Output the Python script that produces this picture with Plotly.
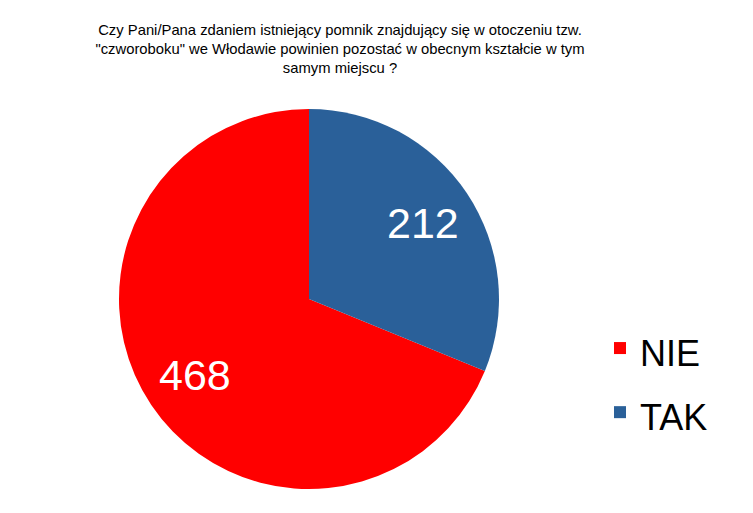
import math
import plotly.graph_objects as go

labels = ["NIE", "TAK"]
values = [468, 212]
colors = ["#FF0000", "#2A6099"]
title_text = ("Czy Pani/Pana zdaniem istniejący pomnik znajdujący się w otoczeniu tzw.<br>"
              "\"czworoboku\" we Włodawie powinien pozostać w obecnym kształcie w tym<br>"
              "samym miejscu ?")

W, H = 753, 513
# pie geometry (pixels within the figure)
CX, CY, R = 301, 291, 190
total = sum(values)
rotation = 360.0 * values[1] / total  # TAK starts at 12 o'clock, clockwise

legend_labels = ['<span style="font-size:36px">%s</span>' % l for l in labels]

fig = go.Figure(go.Pie(
    labels=legend_labels,
    values=values,
    sort=False,
    direction="clockwise",
    rotation=rotation,
    marker=dict(colors=colors, line=dict(width=0)),
    textinfo="none",
    domain=dict(x=[(CX - R) / W, (CX + R) / W],
                y=[(H - CY - R) / H, (H - CY + R) / H]),
    hoverinfo="label+value",
))

# value labels placed along each slice's bisector
annotations = []
start = rotation
for v in values:
    span = 360.0 * v / total
    mid = math.radians(start + span / 2)
    rl = 0.72 * R
    px = CX + rl * math.sin(mid)
    py = CY - rl * math.cos(mid)
    annotations.append(dict(
        x=px / W, y=1 - py / H, xref="paper", yref="paper",
        text=str(v), showarrow=False, xanchor="center", yanchor="middle",
        font=dict(family="Liberation Sans", size=43, color="white"),
    ))
    start += span

fig.update_layout(
    width=W, height=H,
    margin=dict(l=0, r=0, t=0, b=0),
    paper_bgcolor="white",
    plot_bgcolor="white",
    font=dict(family="Liberation Sans", color="black"),
    title=dict(
        text=title_text,
        x=332 / W, xanchor="center",
        y=1 - 27 / H, yanchor="top",
        font=dict(family="Liberation Sans", size=14.8, color="black"),
    ),
    legend=dict(
        x=592 / W, xanchor="left",
        y=1 - 303 / H, yanchor="top",
        font=dict(family="Liberation Sans", size=47, color="black"),
        bgcolor="rgba(0,0,0,0)",
    ),
    annotations=annotations,
)

fig.write_html("out.html")
